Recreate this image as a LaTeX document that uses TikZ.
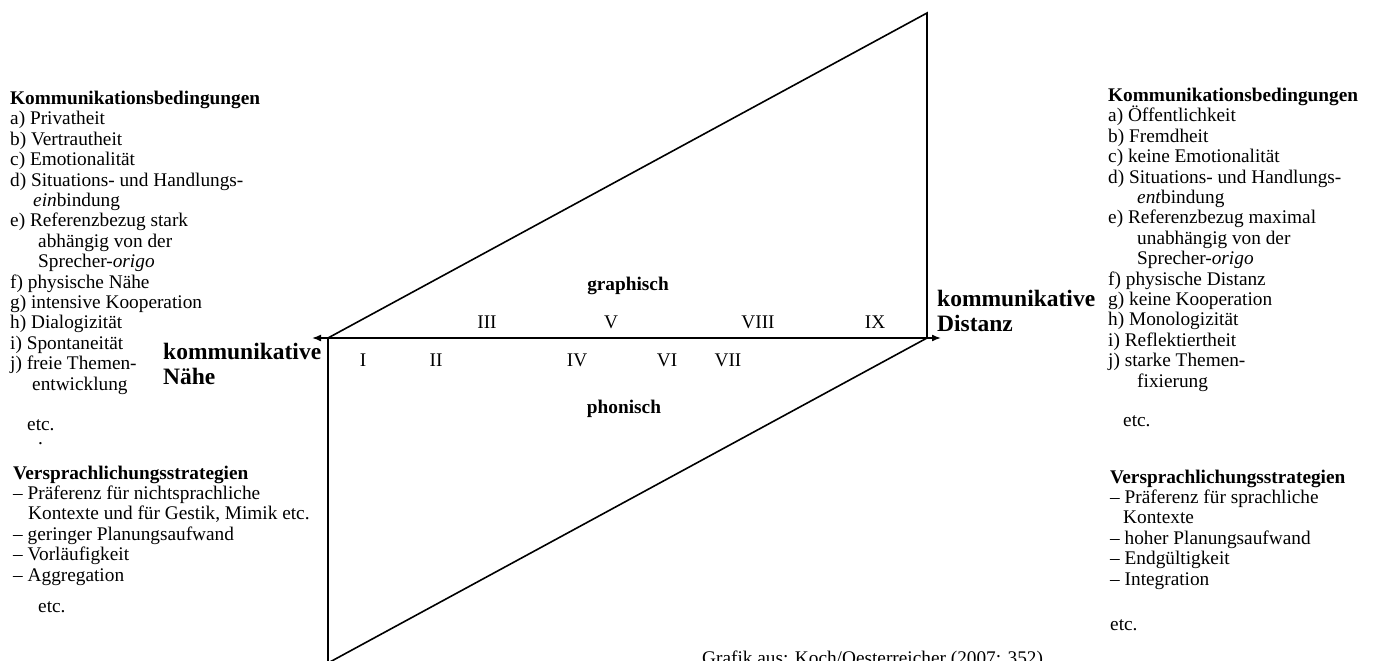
\documentclass[tikz,border=0pt]{standalone}
\usepackage{fontspec}
\setmainfont{Liberation Serif}
\usetikzlibrary{positioning, arrows.meta}

\begin{document}
\begin{tikzpicture}[x=1pt, y=-1pt,
  frame/.style={line width=1.6pt, line join=miter},
  axis/.style={{Latex[length=9pt,width=7pt]}-{Latex[length=9pt,width=7pt]}, line width=1.6pt},
  liste/.style={anchor=base west, align=left, inner sep=0pt,
                font=\fontsize{19.3}{20.4}\selectfont},
  pol/.style={anchor=base west, align=left, inner sep=0pt,
              font=\fontsize{23.5}{24.5}\selectfont\bfseries},
  medium/.style={anchor=base, inner sep=0pt, font=\fontsize{19.3}{20}\selectfont\bfseries},
  stufe/.style={anchor=base, inner sep=0pt, font=\fontsize{19.3}{20}\selectfont}
]
\useasboundingbox (0,0) rectangle (1376,661);

% Corners of the two triangles
\coordinate (L) at (328,338);
\coordinate (T) at (927,13);
\coordinate (R) at (927,338);
\coordinate (B) at (328,663);
\coordinate (nahe) at (312,338);
\coordinate (distanz) at (941,338);

\draw[frame] (L) -- (T) -- (R);
\draw[frame] (R) -- (B) -- (L);
\draw[axis] (nahe) -- (distanz);

% Poles of the axis (placed at the baseline of their last line)
\node[pol] (polN) at (163,384) {kommunikative\\Nähe};
\node[pol] (polD) at (937,331) {kommunikative\\Distanz};

% Medium
\node[medium] (graph) at (628,290) {graphisch};
\node[medium] (phon)  at (624,413) {phonisch};

% Row above the axis
\node[stufe] (s3) at (487,328.5) {III};
\node[stufe] (s5) at (611,328.5) {V};
\node[stufe] (s8) at (758,328.5) {VIII};
\node[stufe] (s9) at (875,328.5) {IX};

% Row below the axis
\node[stufe] (s1) at (363,366.5) {I};
\node[stufe] (s2) at (436,366.5) {II};
\node[stufe] (s4) at (577,366.5) {IV};
\node[stufe] (s6) at (667,366.5) {VI};
\node[stufe] (s7) at (728,366.5) {VII};

% Left side — Naehe
\node[liste] (kbN) at (10,390) {\textbf{Kommunikationsbedingungen}\\
  a) Privatheit\\
  b) Vertrautheit\\
  c) Emotionalität\\
  d) Situations- und Handlungs-\\
  \hspace*{23pt}\textit{ein}bindung\\
  e) Referenzbezug stark\\
  \hspace*{28pt}abhängig von der\\
  \hspace*{28pt}Sprecher-\textit{origo}\\
  f) physische Nähe\\
  g) intensive Kooperation\\
  h) Dialogizität\\
  i) Spontaneität\\
  j) freie Themen-\\
  \hspace*{22pt}entwicklung};
\node[liste] (etcN1) at (27,430) {etc.};
\node[liste] (dotN) at (38,444) {.};
\node[liste] (vsN) at (13,581) {\textbf{Versprachlichungsstrategien}\\
  -- Präferenz für nichtsprachliche\\
  \hspace*{15pt}Kontexte und für Gestik, Mimik etc.\\
  -- geringer Planungsaufwand\\
  -- Vorläufigkeit\\
  -- Aggregation};
\node[liste] (etcN2) at (38,612) {etc.};

% Right side — Distanz
\node[liste] (kbD) at (1108,387) {\textbf{Kommunikationsbedingungen}\\
  a) Öffentlichkeit\\
  b) Fremdheit\\
  c) keine Emotionalität\\
  d) Situations- und Handlungs-\\
  \hspace*{29pt}\textit{ent}bindung\\
  e) Referenzbezug maximal\\
  \hspace*{29pt}unabhängig von der\\
  \hspace*{29pt}Sprecher-\textit{origo}\\
  f) physische Distanz\\
  g) keine Kooperation\\
  h) Monologizität\\
  i) Reflektiertheit\\
  j) starke Themen-\\
  \hspace*{29pt}fixierung};
\node[liste] (etcD1) at (1123,426) {etc.};
\node[liste] (vsD) at (1110,585) {\textbf{Versprachlichungsstrategien}\\
  -- Präferenz für sprachliche\\
  \hspace*{13pt}Kontexte\\
  -- hoher Planungsaufwand\\
  -- Endgültigkeit\\
  -- Integration};
\node[liste] (etcD2) at (1110,630) {etc.};

% Source line, cut by the lower edge
\node[liste] (quelle) at (702,664) {Grafik aus: Koch/Oesterreicher (2007: 352)};

\end{tikzpicture}
\end{document}
